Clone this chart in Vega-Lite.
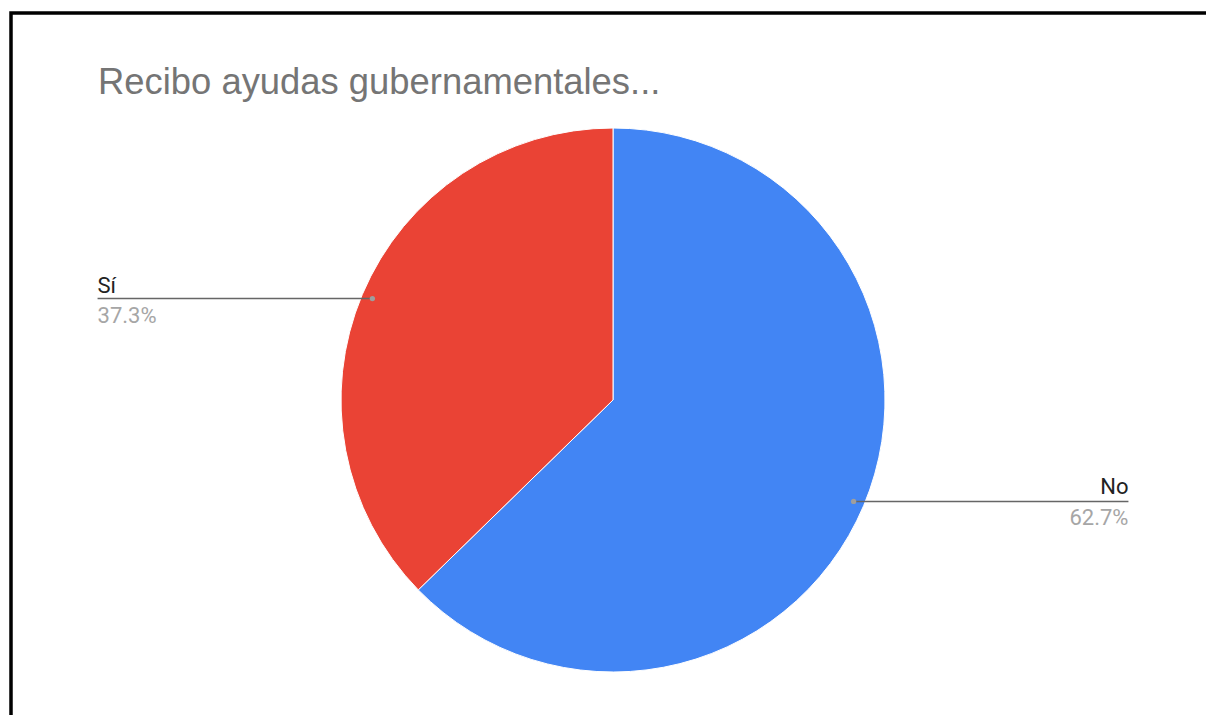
{
  "$schema": "https://vega.github.io/schema/vega-lite/v6.json",
  "width": 1204,
  "height": 774,
  "autosize": {"type": "none"},
  "padding": {"left": 11, "top": 13, "right": -9, "bottom": -72},
  "background": "white",
  "config": {"view": {"stroke": "black", "strokeWidth": 3.5}, "font": "Roboto"},
  "title": {
    "text": "Recibo ayudas gubernamentales...",
    "anchor": "start",
    "frame": "group",
    "orient": "top",
    "offset": 0,
    "baseline": "alphabetic",
    "dx": 87,
    "dy": 117,
    "fontSize": 36.4,
    "fontWeight": "normal",
    "color": "#757575",
    "font": "Liberation Sans"
  },
  "data": {"values": [
    {"respuesta": "No", "porcentaje": 62.7},
    {"respuesta": "Sí", "porcentaje": 37.3}
  ]},
  "transform": [
    {"window": [{"op": "sum", "field": "porcentaje", "as": "acum"}], "sort": [{"field": "respuesta", "order": "ascending"}], "frame": [null, 0]},
    {"joinaggregate": [{"op": "sum", "field": "porcentaje", "as": "total"}]},
    {"calculate": "2*PI*(datum.acum - datum.porcentaje/2)/datum.total", "as": "ang"},
    {"calculate": "0.96*sin(datum.ang)", "as": "px"},
    {"calculate": "0.96*cos(datum.ang)", "as": "py"},
    {"calculate": "datum.px < 0 ? -1.895 : 1.895", "as": "lx"},
    {"calculate": "datum.porcentaje/datum.total", "as": "frac"}
  ],
  "layer": [
    {
      "mark": {"type": "arc", "radius": 272, "stroke": "white", "strokeWidth": 1},
      "encoding": {
        "theta": {"field": "porcentaje", "type": "quantitative", "stack": true},
        "color": {"field": "respuesta", "type": "nominal", "scale": {"domain": ["No", "Sí"], "range": ["#4285F4", "#EA4335"]}, "legend": null},
        "order": {"field": "respuesta", "sort": "ascending"}
      }
    },
    {
      "mark": {"type": "rule", "color": "#666666", "strokeWidth": 1.5},
      "encoding": {
        "x": {"field": "px", "type": "quantitative", "scale": {"domain": [-2.21324, 2.21324], "nice": false, "zero": false}, "axis": null},
        "x2": {"field": "lx"},
        "y": {"field": "py", "type": "quantitative", "scale": {"domain": [-1.42279, 1.42279], "nice": false, "zero": false}, "axis": null}
      }
    },
    {
      "mark": {"type": "circle", "color": "#9e9e9e", "size": 28, "opacity": 1},
      "encoding": {
        "x": {"field": "px", "type": "quantitative"},
        "y": {"field": "py", "type": "quantitative"}
      }
    },
    {
      "transform": [{"filter": "datum.px < 0"}],
      "layer": [
        {
          "mark": {"type": "text", "align": "left", "baseline": "alphabetic", "dy": -6, "fontSize": 22, "color": "#222222"},
          "encoding": {
            "x": {"field": "lx", "type": "quantitative"},
            "y": {"field": "py", "type": "quantitative"},
            "text": {"field": "respuesta"}
          }
        },
        {
          "mark": {"type": "text", "align": "left", "baseline": "alphabetic", "dy": 24, "fontSize": 22, "color": "#a6a6a6"},
          "encoding": {
            "x": {"field": "lx", "type": "quantitative"},
            "y": {"field": "py", "type": "quantitative"},
            "text": {"field": "frac", "type": "quantitative", "format": ".1%"}
          }
        }
      ]
    },
    {
      "transform": [{"filter": "datum.px >= 0"}],
      "layer": [
        {
          "mark": {"type": "text", "align": "right", "baseline": "alphabetic", "dy": -7, "fontSize": 22, "color": "#222222"},
          "encoding": {
            "x": {"field": "lx", "type": "quantitative"},
            "y": {"field": "py", "type": "quantitative"},
            "text": {"field": "respuesta"}
          }
        },
        {
          "mark": {"type": "text", "align": "right", "baseline": "alphabetic", "dy": 24, "fontSize": 22, "color": "#a6a6a6"},
          "encoding": {
            "x": {"field": "lx", "type": "quantitative"},
            "y": {"field": "py", "type": "quantitative"},
            "text": {"field": "frac", "type": "quantitative", "format": ".1%"}
          }
        }
      ]
    }
  ]
}
